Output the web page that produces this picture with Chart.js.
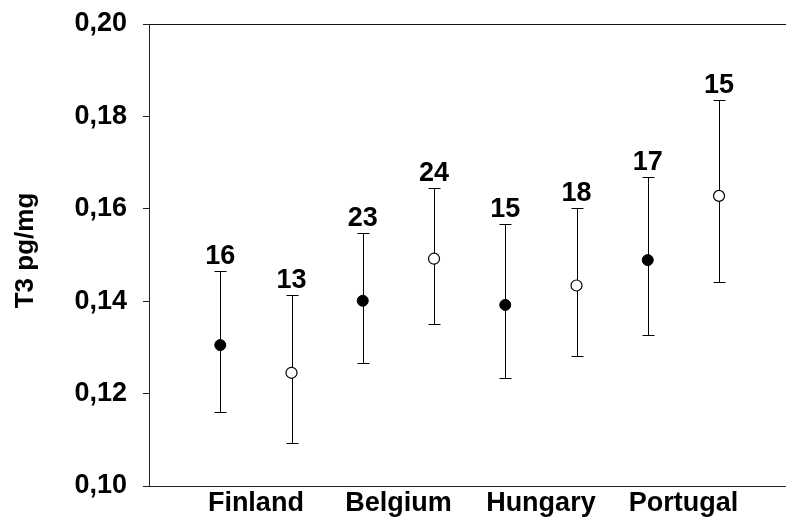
<!DOCTYPE html>
<html>
<head>
<meta charset="utf-8">
<script src="https://cdn.jsdelivr.net/npm/chart.js@4.4.1/dist/chart.umd.min.js"></script>
<style>
html,body{margin:0;padding:0;background:#fff;}
#wrap{width:786px;height:521px;}
</style>
</head>
<body>
<div id="wrap"><canvas id="c" width="786" height="521"></canvas></div>
<script>
const categories = ['Finland', 'Belgium', 'Hungary', 'Portugal'];
const filledMean = [0.1305, 0.1401, 0.1392, 0.1489];
const filledLow  = [0.1160, 0.1267, 0.1234, 0.1327];
const filledHigh = [0.1466, 0.1547, 0.1568, 0.1669];
const filledN    = [16, 23, 15, 17];
const openMean   = [0.1245, 0.1492, 0.1434, 0.1628];
const openLow    = [0.1093, 0.1351, 0.1282, 0.1442];
const openHigh   = [0.1414, 0.1645, 0.1601, 0.1835];
const openN      = [13, 24, 18, 15];
const yTicks     = [0.10, 0.12, 0.14, 0.16, 0.18, 0.20];
const yTitle     = 'T3 pg/mg';

const FONT = '"Liberation Sans", Arial, Helvetica, sans-serif';

function mk(mean, low, high, n, offset) {
  return mean.map((v, i) => ({x: 2 * i + offset, y: v, lo: low[i], hi: high[i], n: n[i]}));
}
const filledData = mk(filledMean, filledLow, filledHigh, filledN, 1);
const openData = mk(openMean, openLow, openHigh, openN, 2);

const errorPlugin = {
  id: 'errbars',
  beforeDatasetsDraw(chart) {
    const ctx = chart.ctx, xs = chart.scales.x, ys = chart.scales.y;
    ctx.save();
    ctx.strokeStyle = '#000';
    ctx.lineWidth = 1;
    chart.data.datasets.forEach(ds => {
      ds.data.forEach(p => {
        const x = Math.round(xs.getPixelForValue(p.x)) + 0.5;
        const yl = Math.round(ys.getPixelForValue(p.lo)) + 0.5;
        const yh = Math.round(ys.getPixelForValue(p.hi)) + 0.5;
        ctx.beginPath();
        ctx.moveTo(x, yl); ctx.lineTo(x, yh);
        ctx.moveTo(x - 6, yl); ctx.lineTo(x + 6, yl);
        ctx.moveTo(x - 6, yh); ctx.lineTo(x + 6, yh);
        ctx.stroke();
      });
    });
    ctx.restore();
  },
  afterDatasetsDraw(chart) {
    const ctx = chart.ctx, xs = chart.scales.x, ys = chart.scales.y;
    ctx.save();
    ctx.fillStyle = '#000';
    ctx.font = 'bold 27px ' + FONT;
    ctx.textAlign = 'center';
    ctx.textBaseline = 'alphabetic';
    chart.data.datasets.forEach(ds => {
      ds.data.forEach(p => {
        const x = xs.getPixelForValue(p.x);
        const yh = ys.getPixelForValue(p.hi);
        ctx.fillText(String(p.n), x, yh - 7);
      });
    });
    // category labels centred between each pair of points
    categories.forEach((c, i) => {
      const x = xs.getPixelForValue(2 * i + 1.5);
      ctx.fillText(c, x, xs.top + 24.5);
    });
    // y axis title
    ctx.font = 'bold 26px ' + FONT;
    ctx.textBaseline = 'middle';
    ctx.translate(26, (ys.top + ys.bottom) / 2 - 4.5);
    ctx.rotate(-Math.PI / 2);
    ctx.fillText(yTitle, 0, 0);
    ctx.restore();
  }
};

new Chart(document.getElementById('c'), {
  type: 'scatter',
  data: {
    datasets: [
      {
        data: filledData,
        pointRadius: 5.5,
        pointHoverRadius: 5.5,
        pointBackgroundColor: '#000',
        pointBorderColor: '#000',
        pointBorderWidth: 1
      },
      {
        data: openData,
        pointRadius: 5.5,
        pointHoverRadius: 5.5,
        pointBackgroundColor: '#fff',
        pointBorderColor: '#000',
        pointBorderWidth: 1.2
      }
    ]
  },
  options: {
    responsive: false,
    animation: false,
    events: [],
    layout: {autoPadding: false, padding: {top: 24, right: 0, left: 0, bottom: 0}},
    plugins: {legend: {display: false}, tooltip: {enabled: false}},
    scales: {
      x: {
        type: 'linear',
        min: 0,
        max: 8.94,
        afterBuildTicks(s) { s.ticks = categories.map((c, i) => ({value: 2 * i + 1.5})); },
        afterFit(s) { s.height = 35; s.paddingLeft = 0; s.paddingRight = 0; },
        grid: {display: false, drawTicks: false},
        border: {display: true, color: '#222', width: 1},
        ticks: {display: false}
      },
      y: {
        min: 0.10,
        max: 0.20,
        afterBuildTicks(s) { s.ticks = yTicks.map(v => ({value: v})); },
        afterFit(s) { s.width = 149; s.paddingTop = 0; s.paddingBottom = 0; },
        grid: {
          drawOnChartArea: true,
          color(ctx) { return (ctx.tick && ctx.tick.value > 0.1999) ? '#111' : 'rgba(0,0,0,0)'; },
          tickColor: '#222',
          tickLength: 6,
          lineWidth: 1
        },
        border: {display: true, color: '#222', width: 1},
        ticks: {
          padding: 16,
          color: '#000',
          font: {family: FONT, size: 27, weight: 'bold'},
          callback(v) { return v.toFixed(2).replace('.', ','); }
        },
        title: {display: false}
      }
    }
  },
  plugins: [errorPlugin]
});
</script>
</body>
</html>
